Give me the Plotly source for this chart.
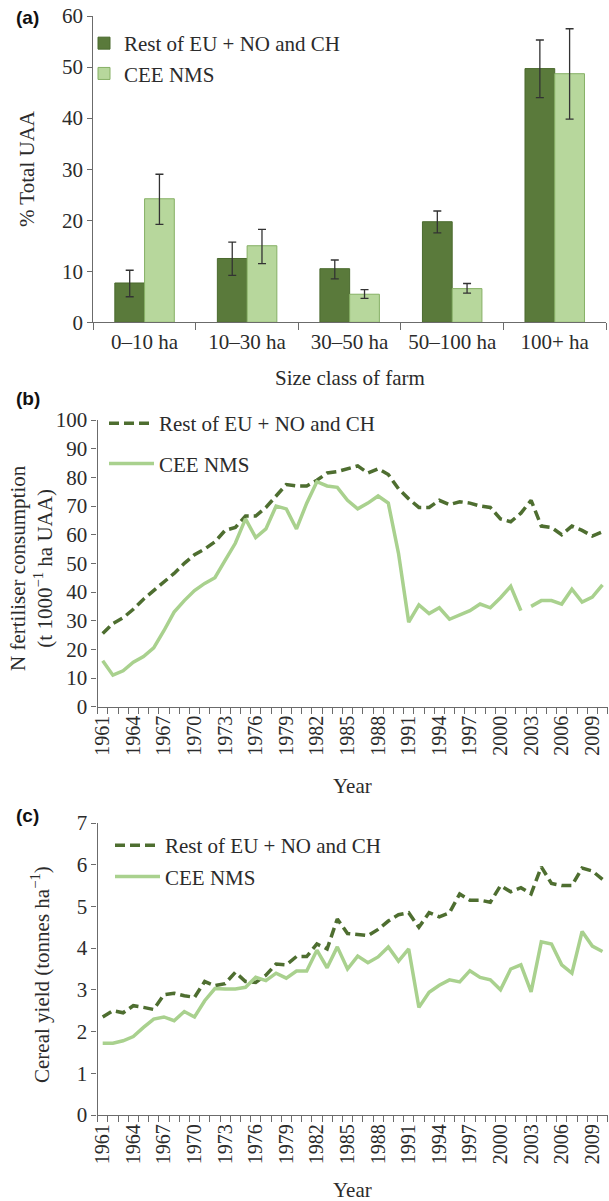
import plotly.graph_objects as go

# ---------------- data ----------------
size_classes = ["0\u201310 ha", "10\u201330 ha", "30\u201350 ha", "50\u2013100 ha", "100+ ha"]
uaa_rest = [7.7, 12.5, 10.5, 19.7, 49.7]
uaa_rest_hi = [10.2, 15.7, 12.2, 21.8, 55.3]
uaa_rest_lo = [5.0, 9.2, 8.5, 17.5, 44.0]
uaa_cee = [24.2, 15.0, 5.5, 6.6, 48.7]
uaa_cee_hi = [29.0, 18.2, 6.4, 7.6, 57.5]
uaa_cee_lo = [19.2, 11.5, 4.7, 5.7, 39.8]

years = list(range(1961, 2011))
n_rest = [25.5, 29, 31, 34, 37.5, 40.5, 43.5, 46.5, 50, 53, 55, 57.5, 61.5, 62.5, 66.5, 66.5,
          69.5, 73.5, 77.5, 77, 77, 79, 81.5, 82, 83, 84, 81.5, 83, 81, 76, 72.5, 69.5, 69.5,
          72, 70.5, 71.5, 71, 70, 69.5, 65.5, 64.5, 67.5, 72, 63, 62.5, 60, 63, 61.5, 59.5, 61]
n_cee_a_years = list(range(1961, 2003))
n_cee_a = [16, 11, 12.5, 15.5, 17.5, 20.5, 26.5, 33, 37, 40.5, 43, 45, 51, 57, 65.5, 59, 62,
           70, 69, 62, 71, 78.5, 77, 76.5, 72, 69, 71, 73.5, 71, 53.5, 29.5, 35.5, 32.5, 34.5,
           30.5, 32, 33.5, 35.8, 34.5, 38, 42, 33.5]
n_cee_b_years = list(range(2003, 2011))
n_cee_b = [35, 37, 37, 35.8, 41, 36.5, 38.2, 42.5]

yield_rest = [2.35, 2.5, 2.45, 2.62, 2.58, 2.53, 2.88, 2.92, 2.86, 2.82, 3.2, 3.1, 3.15, 3.42,
              3.2, 3.18, 3.35, 3.62, 3.6, 3.8, 3.8, 4.1, 3.98, 4.7, 4.35, 4.33, 4.3, 4.45, 4.65,
              4.8, 4.85, 4.5, 4.85, 4.75, 4.85, 5.3, 5.15, 5.15, 5.1, 5.5, 5.35, 5.45, 5.3,
              5.95, 5.55, 5.5, 5.5, 5.92, 5.85, 5.65]
yield_cee = [1.72, 1.72, 1.78, 1.88, 2.1, 2.3, 2.35, 2.26, 2.48, 2.35, 2.74, 3.03, 3.02, 3.02,
             3.06, 3.3, 3.22, 3.4, 3.28, 3.45, 3.45, 3.95, 3.53, 4.03, 3.5, 3.81, 3.65, 3.79,
             4.03, 3.69, 3.98, 2.58, 2.94, 3.11, 3.24, 3.19, 3.46, 3.3, 3.24, 3.0, 3.5, 3.6,
             2.95, 4.15, 4.1, 3.6, 3.4, 4.4, 4.05, 3.92]

year_ticks = list(range(1961, 2010, 3))

# ---------------- style ----------------
W, H = 609, 1201
DARK = "#5a7a3b"
DARK_EDGE = "#4a6a2e"
LIGHT = "#b7d79c"
LIGHT_EDGE = "#86b065"
DLINE = "#4e6e30"
LLINE = "#a9d18e"
AXC = "#6b6b6b"
TXT = "#2b2b2b"
SERIF = "Liberation Serif, Times New Roman, serif"
FS = 21
FS_YEAR = 20


def px_x(p):
    return p / W


def px_y(p):
    return 1 - p / H


fig = go.Figure()

# (a) bars
fig.add_trace(go.Bar(
    x=size_classes, y=uaa_rest, name="Rest of EU + NO and CH",
    marker=dict(color=DARK, line=dict(color=DARK_EDGE, width=1)),
    error_y=dict(type="data", symmetric=False,
                 array=[h - v for h, v in zip(uaa_rest_hi, uaa_rest)],
                 arrayminus=[v - l for v, l in zip(uaa_rest, uaa_rest_lo)],
                 color="#333333", thickness=1.3, width=4),
    xaxis="x", yaxis="y", legend="legend", legendgroup="a1"))
fig.add_trace(go.Bar(
    x=size_classes, y=uaa_cee, name="CEE NMS",
    marker=dict(color=LIGHT, line=dict(color=LIGHT_EDGE, width=1)),
    error_y=dict(type="data", symmetric=False,
                 array=[h - v for h, v in zip(uaa_cee_hi, uaa_cee)],
                 arrayminus=[v - l for v, l in zip(uaa_cee, uaa_cee_lo)],
                 color="#333333", thickness=1.3, width=4),
    xaxis="x", yaxis="y", legend="legend", legendgroup="a2"))

# (b) lines
fig.add_trace(go.Scatter(x=years, y=n_rest, mode="lines", name="Rest of EU + NO and CH",
                         line=dict(color=DLINE, width=3.5, dash="10px,5px"),
                         xaxis="x2", yaxis="y2", legend="legend2", legendgroup="b1"))
fig.add_trace(go.Scatter(x=n_cee_a_years, y=n_cee_a, mode="lines", name="CEE NMS",
                         line=dict(color=LLINE, width=3.5),
                         xaxis="x2", yaxis="y2", legend="legend2", legendgroup="b2"))
fig.add_trace(go.Scatter(x=n_cee_b_years, y=n_cee_b, mode="lines", name="CEE NMS",
                         line=dict(color=LLINE, width=3.5), showlegend=False,
                         xaxis="x2", yaxis="y2", legend="legend2", legendgroup="b2"))

# (c) lines
fig.add_trace(go.Scatter(x=years, y=yield_rest, mode="lines", name="Rest of EU + NO and CH",
                         line=dict(color=DLINE, width=3.5, dash="10px,5px"),
                         xaxis="x3", yaxis="y3", legend="legend3", legendgroup="c1"))
fig.add_trace(go.Scatter(x=years, y=yield_cee, mode="lines", name="CEE NMS",
                         line=dict(color=LLINE, width=3.5),
                         xaxis="x3", yaxis="y3", legend="legend3", legendgroup="c2"))

axis_common = dict(showline=True, linecolor=AXC, linewidth=1.3, showgrid=False, zeroline=False,
                   tickfont=dict(family=SERIF, size=FS, color=TXT), tickcolor=AXC, tickwidth=1.2,
                   automargin=False)

year_axis = dict(axis_common, range=[1960.5, 2010.5], tickmode="array", tickvals=year_ticks,
                 tickangle=-90, ticks="", tickfont=dict(family=SERIF, size=FS_YEAR, color=TXT),
                 minor=dict(ticks="outside", ticklen=6, tickmode="linear", tick0=1960.5, dtick=1,
                            tickcolor=AXC, tickwidth=1.2, showgrid=False))

fig.update_layout(
    width=W, height=H, margin=dict(l=0, r=0, t=0, b=0, autoexpand=False),
    paper_bgcolor="white", plot_bgcolor="white",
    barmode="group", bargap=0.42, bargroupgap=0,
    font=dict(family=SERIF, size=FS, color=TXT),
    xaxis=dict(axis_common, domain=[px_x(93.3), px_x(606)], anchor="y", type="category",
               ticks="outside", ticklen=7, tickson="boundaries"),
    yaxis=dict(axis_common, domain=[px_y(322.3), px_y(16)], anchor="x", range=[0, 60],
               dtick=10, ticks="outside", ticklen=5),
    xaxis2=dict(year_axis, domain=[px_x(97.6), px_x(607.6)], anchor="y2"),
    yaxis2=dict(axis_common, domain=[px_y(706.7), px_y(420)], anchor="x2", range=[0, 100],
                dtick=10, ticks="outside", ticklen=5),
    xaxis3=dict(year_axis, domain=[px_x(97.6), px_x(607.6)], anchor="y3"),
    yaxis3=dict(axis_common, domain=[px_y(1115), px_y(823)], anchor="x3", range=[0, 7],
                dtick=1, ticks="outside", ticklen=5),
    legend=dict(x=px_x(84), y=px_y(23), xanchor="left", yanchor="top", bgcolor="rgba(0,0,0,0)",
                font=dict(family=SERIF, size=FS, color=TXT), tracegroupgap=0, itemwidth=30,
                traceorder="grouped"),
    legend2=dict(x=px_x(104), y=px_y(403), xanchor="left", yanchor="top", bgcolor="rgba(0,0,0,0)",
                 font=dict(family=SERIF, size=FS, color=TXT), tracegroupgap=10, itemwidth=45,
                 traceorder="grouped"),
    legend3=dict(x=px_x(110), y=px_y(825), xanchor="left", yanchor="top", bgcolor="rgba(0,0,0,0)",
                 font=dict(family=SERIF, size=FS, color=TXT), tracegroupgap=1, itemwidth=45,
                 traceorder="grouped"),
)

ann = []
bold = dict(family="Liberation Sans, Arial, sans-serif", size=19, color="#111111")
for lab, yy in [("<b>(a)</b>", 18), ("<b>(b)</b>", 398), ("<b>(c)</b>", 815)]:
    ann.append(dict(text=lab, x=px_x(14), y=px_y(yy), xref="paper", yref="paper",
                    xanchor="left", yanchor="middle", showarrow=False, font=bold))


def label(text, x, y, angle=0):
    return dict(text=text, x=px_x(x), y=px_y(y), xref="paper", yref="paper",
                xanchor="center", yanchor="middle", textangle=angle, showarrow=False,
                font=dict(family=SERIF, size=FS, color=TXT))


ann.append(label("% Total UAA", 27, 169, -90))
ann.append(label("Size class of farm", 350, 378))
ann.append(label("N fertiliser consumption<br>(t 1000<sup>\u22121</sup> ha UAA)", 31, 568, -90))
ann.append(label("Year", 352, 786))
ann.append(label("Cereal yield (tonnes ha<sup>\u22121</sup>)", 40, 975, -90))
ann.append(label("Year", 352, 1190))
fig.update_layout(annotations=ann)

fig.write_html("out.html", config={"displayModeBar": False},
               post_script="document.body.style.margin='0';document.body.style.padding='0';"
                           "document.documentElement.style.overflow='hidden';")
